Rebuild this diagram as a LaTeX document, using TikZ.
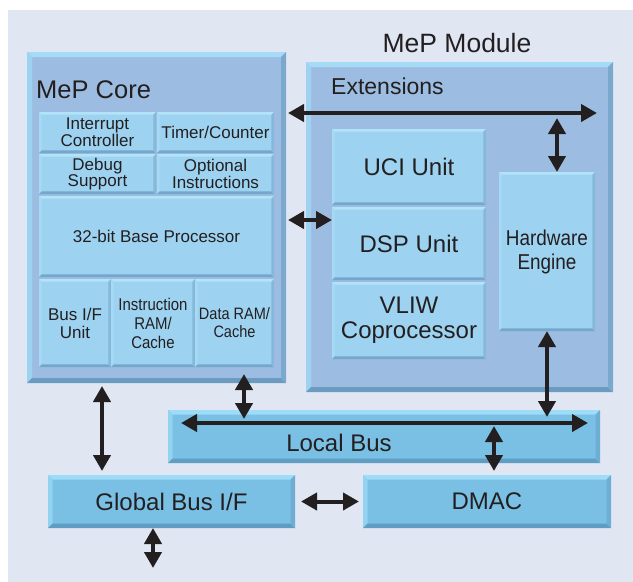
\documentclass[tikz,border=0pt]{standalone}
\usepackage{fontspec}
\setmainfont{Liberation Sans}
\usetikzlibrary{arrows.meta}
\definecolor{bgc}{HTML}{E1E6F3}
\definecolor{txt}{HTML}{231F20}
\definecolor{ofill}{HTML}{9CBDE1}
\definecolor{otop}{HTML}{A5DBF6}
\definecolor{oleft}{HTML}{9DD3F0}
\definecolor{obot}{HTML}{6B9BC0}
\definecolor{oright}{HTML}{7BA9CE}
\definecolor{ifill}{HTML}{9DD3F1}
\definecolor{itop}{HTML}{B3E3F8}
\definecolor{ileft}{HTML}{A6DAF4}
\definecolor{ibot}{HTML}{74A7CB}
\definecolor{iright}{HTML}{86B8D9}
\definecolor{bfill}{HTML}{79C0E4}
\definecolor{btop}{HTML}{9FDCF7}
\definecolor{bleft}{HTML}{92D3F1}
\definecolor{bbot}{HTML}{5F9DC2}
\definecolor{bright}{HTML}{6EAED3}
\newcommand\bevelpic[5]{%
  \coordinate (bvnw) at (path picture bounding box.north west);
  \coordinate (bvne) at (path picture bounding box.north east);
  \coordinate (bvsw) at (path picture bounding box.south west);
  \coordinate (bvse) at (path picture bounding box.south east);
  \fill[#2] (bvnw) -- (bvne) -- ([shift={(-#1,-#1)}]bvne) -- ([shift={(#1,-#1)}]bvnw) -- cycle;
  \fill[#3] (bvnw) -- ([shift={(#1,-#1)}]bvnw) -- ([shift={(#1,#1)}]bvsw) -- (bvsw) -- cycle;
  \fill[#4] (bvsw) -- ([shift={(#1,#1)}]bvsw) -- ([shift={(-#1,#1)}]bvse) -- (bvse) -- cycle;
  \fill[#5] (bvse) -- ([shift={(-#1,#1)}]bvse) -- ([shift={(-#1,-#1)}]bvne) -- (bvne) -- cycle;
}
\newcommand\fs[2]{\fontsize{#1}{#2}\selectfont}
\newcommand\cond[1]{\scalebox{0.88}[1]{#1}}
\begin{document}
\begin{tikzpicture}[x=1pt,y=-1pt,
  box/.style={anchor=north west,inner sep=0pt,outer sep=0pt,text=txt,align=center},
  outerbox/.style={box,fill=ofill,path picture={\bevelpic{5pt}{otop}{oleft}{obot}{oright}}},
  innerbox/.style={box,fill=ifill,path picture={\bevelpic{2.6pt}{itop}{ileft}{ibot}{iright}}},
  busbox/.style={box,fill=bfill,path picture={\bevelpic{4.5pt}{btop}{bleft}{bbot}{bright}},font=\fs{24}{27}},
  big/.style={text=txt,inner sep=0pt},
  med/.style={font=\fs{24}{25}},
  sm/.style={font=\fs{17}{16.7}},
  arr/.style={draw=txt,line width=4pt,{Triangle[length=16pt,width=17pt]}-{Triangle[length=16pt,width=17pt]}}
]
\useasboundingbox (0,0) rectangle (633,582);
\fill[white] (0,0) rectangle (633,582);
\fill[bgc] (8,10) rectangle (633,582);

% outer boxes
\node[outerbox,minimum width=259pt,minimum height=331pt] (core) at (27,52) {};
\node[outerbox,minimum width=307pt,minimum height=330pt] (module) at (306,62) {};
\node[big,font=\fs{25.5}{28},anchor=base west] (coreT) at (36,98) {MeP Core};
\node[big,font=\fs{26.5}{28},anchor=base] (moduleT) at (457,52) {MeP Module};
\node[big,font=\fs{23}{25},anchor=base west] (extT) at (331,94) {Extensions};

% core inner boxes
\node[innerbox,sm,minimum width=117pt,minimum height=41pt] (ic) at (39,112) {Interrupt\\Controller};
\node[innerbox,sm,minimum width=117pt,minimum height=41pt] (tc) at (157,112) {Timer/Counter};
\node[innerbox,sm,minimum width=117pt,minimum height=40pt] (ds) at (39,154) {Debug\\Support};
\node[innerbox,sm,minimum width=117pt,minimum height=40pt] (oi) at (157,154) {Optional\\Instructions};
\node[innerbox,sm,minimum width=235pt,minimum height=81pt] (bp) at (39,196) {32-bit Base Processor};
\node[innerbox,font=\fs{17}{18},minimum width=72pt,minimum height=88pt] (bif) at (39,279) {Bus I/F\\Unit};
\node[innerbox,font=\fs{17}{19},minimum width=84pt,minimum height=88pt] (ir) at (111,279) {\cond{Instruction}\\\cond{RAM/}\\\cond{Cache}};
\node[innerbox,font=\fs{16.5}{18},minimum width=79pt,minimum height=88pt] (dr) at (195,279) {\cond{Data RAM/}\\\cond{Cache}};

% module inner boxes
\node[innerbox,med,minimum width=154pt,minimum height=76pt] (uci) at (332,129) {UCI Unit};
\node[innerbox,med,minimum width=154pt,minimum height=73pt] (dsp) at (332,207) {DSP Unit};
\node[innerbox,med,minimum width=154pt,minimum height=77pt] (vliw) at (332,282) {VLIW\\Coprocessor};
\node[innerbox,font=\fs{21.5}{24},minimum width=96pt,minimum height=159pt] (hw) at (499,172) {\cond{Hardware}\\\cond{Engine}};

% bus row
\node[busbox,minimum width=432pt,minimum height=53pt] (lbus) at (168,410) {};
\node[text=txt,inner sep=0pt,font=\fs{24}{27}] (lbusT) at (339,443) {Local Bus};
\node[busbox,minimum width=247pt,minimum height=53pt] (gbus) at (48,475) {Global Bus I/F};
\node[busbox,minimum width=248pt,minimum height=53pt] (dmac) at (363,475) {DMAC};

% free ends
\coordinate (extR) at (597,113);
\coordinate (extV) at (557,118);
\coordinate (gout) at (153,568);

% connectors
\draw[arr] ([xshift=2pt]core.east |- extR) -- (extR);
\draw[arr] (hw.north -| extV) -- (extV);
\draw[arr] ([xshift=2pt]core.east |- 0,220) -- (dsp.west |- 0,220);
\draw[arr] (hw.south) -- ([yshift=-7pt]lbus.north -| hw.south);
\draw[arr] ([yshift=9pt]core.south -| 244,0) -- ([yshift=-9pt]lbus.north -| 244,0);
\draw[arr] ([xshift=13pt]lbus.west |- 0,423) -- ([xshift=-12pt]lbus.east |- 0,423);
\draw[arr] ([yshift=-16pt]lbus.north -| 494,0) -- ([yshift=4pt]dmac.north -| 494,0);
\draw[arr] ([yshift=-3pt]core.south -| 102,0) -- ([yshift=4pt]gbus.north -| 102,0);
\draw[arr] ([xshift=6pt]gbus.east) -- ([xshift=-4pt]dmac.west);
\draw[arr] (gbus.south -| gout) -- (gout);
\end{tikzpicture}
\end{document}
